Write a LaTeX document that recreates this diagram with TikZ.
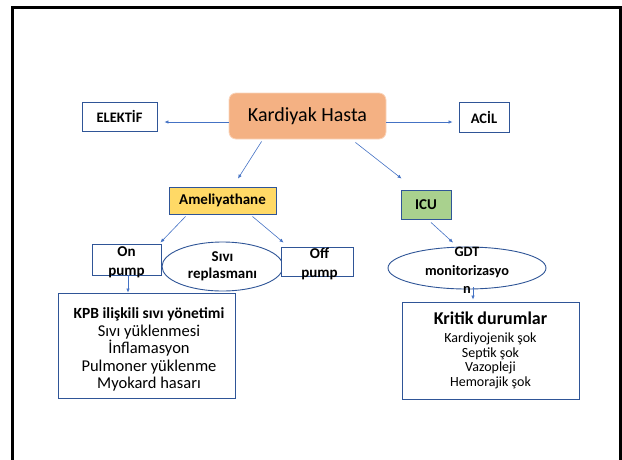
\documentclass[tikz,border=0pt]{standalone}
\usepackage{fontspec}
\setmainfont{Carlito}
\usetikzlibrary{shapes.geometric,arrows.meta}

\definecolor{boxblue}{RGB}{47,85,151}
\definecolor{arrowblue}{RGB}{68,114,196}
\definecolor{salmon}{RGB}{244,177,131}
\definecolor{gold}{RGB}{255,217,102}
\definecolor{leaf}{RGB}{169,209,142}

\begin{document}
\begin{tikzpicture}[x=1pt,y=-1pt,
  box/.style={draw=boxblue, line width=0.9pt, fill=white, inner sep=0pt,
    align=center, font=\fontsize{14.5}{17}\selectfont\bfseries},
  oval/.style={ellipse, draw=boxblue, line width=0.9pt, fill=white,
    inner sep=0pt, align=center},
  hub/.style={rounded corners=7pt, fill=salmon, draw=salmon!55,
    line width=0.8pt, font=\fontsize{20}{24}\selectfont},
  arr/.style={draw=arrowblue, line width=0.6pt,
    -{Latex[length=4pt,width=3.5pt]}}]
  \useasboundingbox (0,0) rectangle (622,459);

  % Frame
  \draw[line width=3pt] (12,470) -- (12,7) -- (620.5,7) -- (620.5,470);

  % Top row
  \node[hub, minimum width=157, minimum height=46] (kardiyak) at (307.5,116) {Kardiyak Hasta};
  \node[box, minimum width=75, minimum height=29] (elektif) at (119.5,116.5) {ELEKTİF};
  \node[box, minimum width=50, minimum height=30] (acil) at (484,117) {ACİL};

  % Second row
  \node[box, fill=gold, minimum width=107, minimum height=27,
    font=\fontsize{15}{17}\selectfont\bfseries] (ameliyathane) at (222.5,200.5) {Ameliyathane};
  \node[box, fill=leaf, minimum width=50, minimum height=29,
    font=\fontsize{15}{17}\selectfont\bfseries] (icu) at (426,204.5) {ICU};

  % Third row
  \node[oval, minimum width=121, minimum height=49,
    font=\fontsize{15}{17.5}\selectfont\bfseries] (sivi) at (222.5,266.5) {Sıvı\\replasmanı};
  \node[box, minimum width=69, minimum height=31, inner ysep=-4pt,
    font=\fontsize{15}{19}\selectfont\bfseries] (onpump) at (126.5,259.5) {\rule{0pt}{16pt}On\\pump};
  \node[box, minimum width=72, minimum height=29, inner ysep=-4pt,
    font=\fontsize{15}{19}\selectfont\bfseries] (offpump) at (317,261.5) {\rule{0pt}{15pt}\hspace{5pt}Off\\\hspace{5pt}pump};
  \node[oval, minimum width=158, minimum height=42, inner ysep=-12pt,
    font=\fontsize{14.3}{18.5}\selectfont\bfseries] (gdt) at (467,268) {\rule{0pt}{14pt}GDT\\monitorizasyo\\n};

  % Bottom boxes
  \node[box, minimum width=177, minimum height=105,
    font=\fontsize{16.5}{17.5}\selectfont\mdseries] (kpb) at (146.5,345.5)
    {\hspace{5pt}{\bfseries\fontsize{15.5}{17.5}\selectfont\rule{0pt}{19pt}KPB ilişkili sıvı yönetimi}\\
     \hspace{5pt}Sıvı yüklenmesi\\\hspace{5pt}İnflamasyon\\\hspace{5pt}Pulmoner yüklenme\\\hspace{5pt}Myokard hasarı};
  \node[box, minimum width=177, minimum height=97,
    font=\fontsize{14}{14.6}\selectfont\mdseries] (kritik) at (490.5,350.5)
    {{\bfseries\fontsize{18}{18}\selectfont Kritik durumlar\hspace{8pt}}\\[3pt]Kardiyojenik şok\hspace{8pt}\\Septik şok\hspace{8pt}\\Vazopleji\hspace{8pt}\\Hemorajik şok\hspace{8pt}};

  % Arrows
  \draw[arr] ([yshift=-6]kardiyak.west) -- ([xshift=7,yshift=-5.5]elektif.east);
  \draw[arr] ([yshift=-6]kardiyak.east) -- ([xshift=-6,yshift=-5]acil.west);
  \draw[arr] ([xshift=33,yshift=-2]kardiyak.south west) -- ([xshift=15.5,yshift=8]ameliyathane.north);
  \draw[arr] ([xshift=-31,yshift=-3]kardiyak.south east) -- ([xshift=1,yshift=11]icu.north west);
  \draw[arr] ([xshift=17,yshift=-2]ameliyathane.south west) -- ([xshift=-1,yshift=1]onpump.north east);
  \draw[arr] ([xshift=-24,yshift=-2]ameliyathane.south east) -- ([xshift=3,yshift=4]offpump.north west);
  \draw[arr] ([xshift=1.5]onpump.south) -- ([xshift=-18.5]kpb.north);
  \draw[arr] ([xshift=5,yshift=-3]icu.south) -- ([xshift=-14,yshift=4]gdt.north);
  \draw[arr] ([xshift=6,yshift=2]gdt.south) -- ([xshift=-17.5,yshift=2]kritik.north);

\end{tikzpicture}
\end{document}
